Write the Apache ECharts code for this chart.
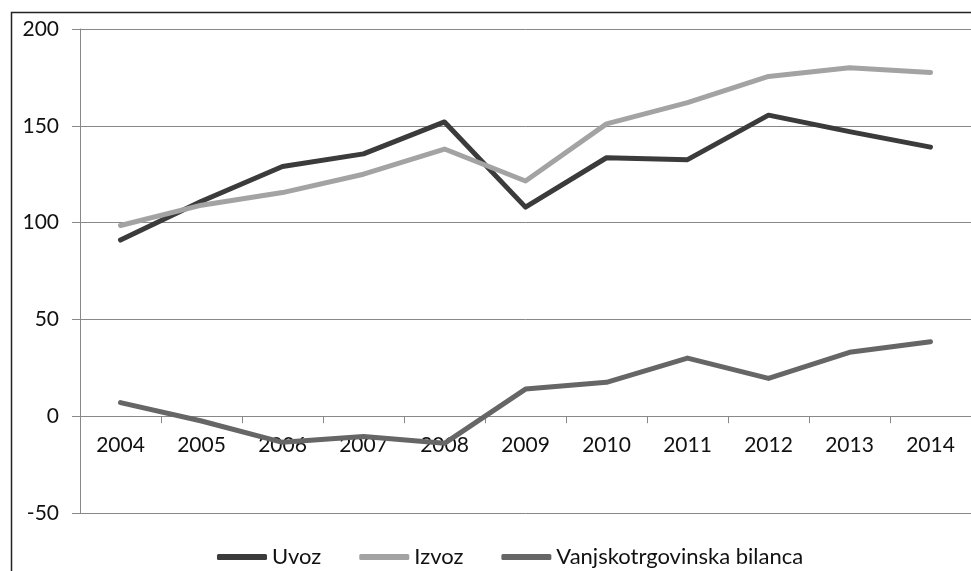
<!DOCTYPE html>
<html>
<head>
<meta charset="utf-8">
<script src="https://cdn.jsdelivr.net/npm/echarts@6/dist/echarts.min.js"></script>
<style>
html,body{margin:0;padding:0;background:#fff;}
#c{width:971px;height:571px;}
</style>
</head>
<body>
<div id="c"></div>
<script>
const years = ['2004','2005','2006','2007','2008','2009','2010','2011','2012','2013','2014'];
const uvoz = [91, 111, 129, 135.5, 152, 108, 133.5, 132.5, 155.5, 147, 139];
const izvoz = [98.5, 109, 115.5, 125, 138, 121.5, 151, 162, 175.5, 180, 177.5];
const bilanca = [7, -2.5, -13.5, -10.5, -14, 14, 17.5, 30, 19.5, 33, 38.5];
const yTicks = [-50, 0, 50, 100, 150, 200];

const FONT = 'Lato';
const chart = echarts.init(document.getElementById('c'), null, {renderer: 'canvas'});
chart.setOption({
  animation: false,
  backgroundColor: '#ffffff',
  textStyle: {fontFamily: FONT},
  grid: {left: 80, right: -5, top: 29, bottom: 58, containLabel: false},
  graphic: [{
    type: 'rect', silent: true, z: 100,
    shape: {x: 11.5, y: 12.5, width: 1000, height: 700},
    style: {fill: 'none', stroke: '#222', lineWidth: 1.5}
  }],
  legend: {
    left: 212, top: 541,
    itemWidth: 50, itemHeight: 6, itemGap: 38,
    icon: 'roundRect',
    textStyle: {fontFamily: FONT, fontSize: 22, color: '#111'},
    data: ['Uvoz', 'Izvoz', 'Vanjskotrgovinska bilanca']
  },
  xAxis: {
    type: 'category', data: years, boundaryGap: true,
    offset: -96.8,
    axisLine: {onZero: false, lineStyle: {color: '#888', width: 1}},
    axisTick: {show: true, length: 7, lineStyle: {color: '#888'}},
    axisLabel: {fontFamily: FONT, fontSize: 21, color: '#111', margin: 19},
    splitLine: {show: false}
  },
  yAxis: {
    type: 'value', min: yTicks[0], max: yTicks[yTicks.length-1], interval: 50,
    axisLine: {show: true, lineStyle: {color: '#888', width: 1}},
    axisTick: {show: true, length: 8, lineStyle: {color: '#888'}},
    axisLabel: {fontFamily: FONT, fontSize: 21, color: '#111', margin: 21},
    splitLine: {show: true, lineStyle: {color: '#888', width: 1}}
  },
  series: [
    {name: 'Uvoz', type: 'line', data: uvoz, symbol: 'none', smooth: false,
     lineStyle: {color: '#3b3b3b', width: 5, cap: 'round', join: 'round'}, itemStyle: {color: '#3b3b3b'}},
    {name: 'Izvoz', type: 'line', data: izvoz, symbol: 'none',
     lineStyle: {color: '#a3a3a3', width: 5, cap: 'round', join: 'round'}, itemStyle: {color: '#a3a3a3'}},
    {name: 'Vanjskotrgovinska bilanca', type: 'line', data: bilanca, symbol: 'none',
     lineStyle: {color: '#666666', width: 5, cap: 'round', join: 'round'}, itemStyle: {color: '#666666'}}
  ]
});
</script>
</body>
</html>
